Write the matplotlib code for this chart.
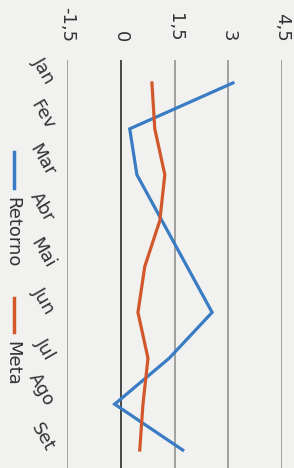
import numpy as np
import matplotlib
matplotlib.use('Agg')
import matplotlib.pyplot as plt
from matplotlib.lines import Line2D

# data (chart is drawn rotated: months run down, values run right)
months = ['Jan', 'Fev', 'Mar', 'Abr', 'Mai', 'Jun', 'Jul', 'Ago', 'Set']
retorno = [3.13, 0.25, 0.45, 1.15, 1.85, 2.55, 1.35, -0.17, 1.73]
meta = [0.87, 0.95, 1.23, 1.09, 0.67, 0.48, 0.76, 0.62, 0.53]
value_ticks = [-1.5, 0, 1.5, 3, 4.5]
value_labels = ['-1,5', '0', '1,5', '3', '4,5']

blue = '#3a7cc4'
red = '#d2582c'
bg = '#f1f1ef'

W, H = 294, 468
fig = plt.figure(figsize=(W / 100, H / 100), dpi=100, facecolor=bg)
ax = fig.add_axes([67 / W, (H - 473) / H, 215 / W, 413 / H], facecolor=bg)

pos = np.arange(len(months))
ax.plot(retorno, pos, color=blue, lw=2.3, solid_joinstyle='miter')
ax.plot(meta, pos, color=red, lw=2.3)

ax.set_xlim(-1.5, 4.5)
ax.set_ylim(len(months) - 0.5, -0.5)
for v in value_ticks:
    ax.axvline(v, color='#1a1a1a' if v == 0 else '#8a8a8a', lw=1.1, zorder=0)

for s in ax.spines.values():
    s.set_visible(False)

ax.set_xticks(value_ticks)
ax.set_xticklabels(value_labels)
ax.tick_params(axis='x', top=True, labeltop=True, bottom=False, labelbottom=False,
               labelrotation=-90, length=0, pad=13, labelsize=13, labelcolor='#333333')

ax.set_yticks(pos)
ax.set_yticklabels(months, rotation=-60, ha='right', va='center',
                   rotation_mode='anchor', fontsize=13, color='#333333')
ax.tick_params(axis='y', length=0, pad=12)

# rotated legend on the left
fig.add_artist(Line2D([14 / W, 14 / W], [1 - 152 / H, 1 - 188 / H], color=blue, lw=2.5))
fig.text(12 / W, 1 - 232 / H, 'Retorno', rotation=-90, ha='center', va='center',
         fontsize=13, color='#333333')
fig.add_artist(Line2D([14 / W, 14 / W], [1 - 298 / H, 1 - 332 / H], color=red, lw=2.5))
fig.text(12 / W, 1 - 363 / H, 'Meta', rotation=-90, ha='center', va='center',
         fontsize=13, color='#333333')

fig.savefig('out.png', dpi=100, facecolor=bg)
